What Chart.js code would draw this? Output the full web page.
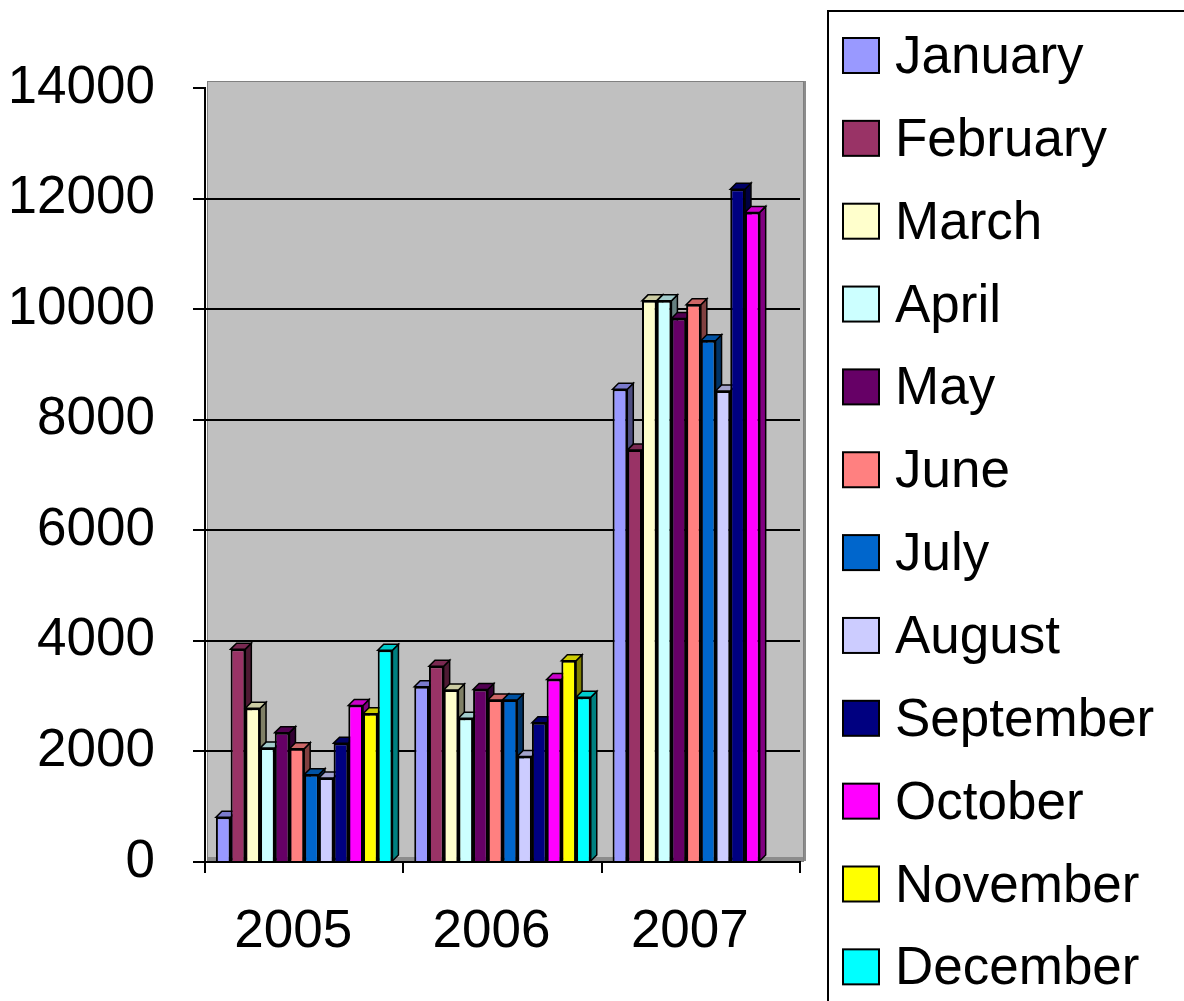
<!DOCTYPE html>
<html>
<head>
<meta charset="utf-8">
<script src="https://cdn.jsdelivr.net/npm/chart.js@4.4.1/dist/chart.umd.min.js"></script>
<style>
  html, body { margin: 0; padding: 0; background: #fff; }
</style>
</head>
<body>
<canvas id="grafico" width="1184" height="1001"></canvas>
<script>
// datos
const anios = ["2005", "2006", "2007"];
const meses = ["January", "February", "March", "April", "May", "June", "July",
    "August", "September", "October", "November", "December"];
const ticksY = [0, 2000, 4000, 6000, 8000, 10000, 12000, 14000];

const january = [810, 3170, 8550];
const february = [3850, 3540, 7450];
const march = [2780, 3110, 10150];
const april = [2060, 2600, 10150];
const may = [2340, 3120, 9830];
const june = [2050, 2930, 10080];
const july = [1580, 2930, 9430];
const august = [1520, 1910, 8520];
const september = [2150, 2520, 12170];
const october = [2830, 3300, 11750];
const november = [2680, 3640, null];
const december = [3830, 2980, null];

const series = [january, february, march, april, may, june, july,
    august, september, october, november, december];
const colores = ["#9999ff", "#993366", "#ffffcc", "#ccffff", "#660066", "#ff8080",
    "#0066cc", "#ccccff", "#000080", "#ff00ff", "#ffff00", "#00ffff"];

const fuente = "'Liberation Sans', Arial, sans-serif";
const profundidad = 6;

function oscurecer(hex, f) {
    const n = parseInt(hex.slice(1), 16);
    const r = Math.round(((n >> 16) & 255) * f);
    const g = Math.round(((n >> 8) & 255) * f);
    const b = Math.round((n & 255) * f);
    return `rgb(${r},${g},${b})`;
}

// pared gris + caras laterales y superiores de las barras
const barras3d = {
    id: "barras3d",
    beforeDraw(chart) {
        const { ctx, chartArea: a } = chart;
        ctx.save();
        ctx.fillStyle = "#c0c0c0";
        ctx.fillRect(a.left + 2, a.top - 7, a.right - a.left + 1, a.bottom - a.top + 7);
        ctx.fillStyle = "#8c8c8c";
        ctx.fillRect(a.right + 3, a.top - 7, 3, a.bottom - a.top + 5);
        ctx.fillRect(a.left + 2, a.bottom - 5, a.right - a.left + 4, 4);
        ctx.strokeStyle = "#808080";
        ctx.lineWidth = 1;
        ctx.strokeRect(a.left + 2.5, a.top - 6.5, a.right - a.left + 1, a.bottom - a.top + 6);
        ctx.restore();
    },
    beforeDatasetsDraw(chart) {
        const ctx = chart.ctx;
        const d = profundidad;
        ctx.save();
        ctx.lineWidth = 1.5;
        ctx.strokeStyle = "#000";
        for (let c = 0; c < chart.data.labels.length; c++) {
            chart.data.datasets.forEach((ds, i) => {
                const bar = chart.getDatasetMeta(i).data[c];
                if (!bar || ds.data[c] == null) return;
                const { x, y, base, width } = bar.getProps(["x", "y", "base", "width"], true);
                const l = x - width / 2, r = x + width / 2;
                ctx.beginPath();
                ctx.moveTo(r, y);
                ctx.lineTo(r + d, y - d);
                ctx.lineTo(r + d, base - d);
                ctx.lineTo(r, base);
                ctx.closePath();
                ctx.fillStyle = oscurecer(ds.backgroundColor, 0.5);
                ctx.fill();
                ctx.stroke();
                ctx.beginPath();
                ctx.moveTo(l, y);
                ctx.lineTo(l + d, y - d);
                ctx.lineTo(r + d, y - d);
                ctx.lineTo(r, y);
                ctx.closePath();
                ctx.fillStyle = oscurecer(ds.backgroundColor, 0.8);
                ctx.fill();
                ctx.stroke();
            });
        }
        ctx.restore();
    }
};

const leyenda = {
    id: "leyenda",
    afterDraw(chart) {
        const ctx = chart.ctx;
        const x0 = chart.chartArea.right + 28;
        ctx.save();
        ctx.lineWidth = 2;
        ctx.strokeStyle = "#000";
        ctx.strokeRect(x0, 11, 400, 1100);
        ctx.font = "53px " + fuente;
        ctx.textBaseline = "alphabetic";
        chart.data.datasets.forEach((ds, i) => {
            const y = 38 + i * 82.85;
            ctx.fillStyle = ds.backgroundColor;
            ctx.fillRect(x0 + 15, y, 36, 35);
            ctx.strokeRect(x0 + 15, y, 36, 35);
            ctx.fillStyle = "#000";
            ctx.fillText(ds.label, x0 + 67, y + 35);
        });
        ctx.restore();
    }
};

const ctx = document.getElementById("grafico").getContext("2d");
const grafico = new Chart(ctx, {
    type: "bar",
    data: {
        labels: anios,
        datasets: meses.map((m, i) => ({
            label: m,
            data: series[i],
            backgroundColor: colores[i],
            borderColor: "#000",
            borderWidth: 2,
            categoryPercentage: 0.89,
            barPercentage: 1.0
        }))
    },
    options: {
        responsive: false,
        devicePixelRatio: 1,
        animation: false,
        layout: { padding: { left: 12, top: 88, right: 384, bottom: 45 } },
        plugins: {
            legend: { display: false },
            tooltip: { enabled: false }
        },
        scales: {
            x: {
                afterFit: s => { s.height = 94; },
                grid: {
                    offset: true,
                    drawOnChartArea: false,
                    drawTicks: true,
                    tickLength: 11,
                    color: "#000",
                    lineWidth: 2
                },
                border: { display: true, color: "#000", width: 2 },
                ticks: {
                    color: "#000",
                    padding: 28,
                    labelOffset: -11,
                    font: { family: fuente, size: 53 }
                }
            },
            y: {
                min: 0,
                max: 14000,
                afterFit: s => { s.width = 193; },
                afterBuildTicks: s => { s.ticks = ticksY.map(v => ({ value: v })); },
                grid: {
                    color: c => (c.tick && c.tick.value === 14000) ? "rgba(0,0,0,0)" : "#000",
                    tickColor: "#000",
                    lineWidth: 2,
                    tickLength: 12
                },
                border: { display: true, color: "#000", width: 2 },
                ticks: {
                    color: "#000",
                    padding: 38,
                    font: { family: fuente, size: 53 },
                    callback: v => String(v)
                }
            }
        }
    },
    plugins: [barras3d, leyenda]
});
</script>
</body>
</html>
